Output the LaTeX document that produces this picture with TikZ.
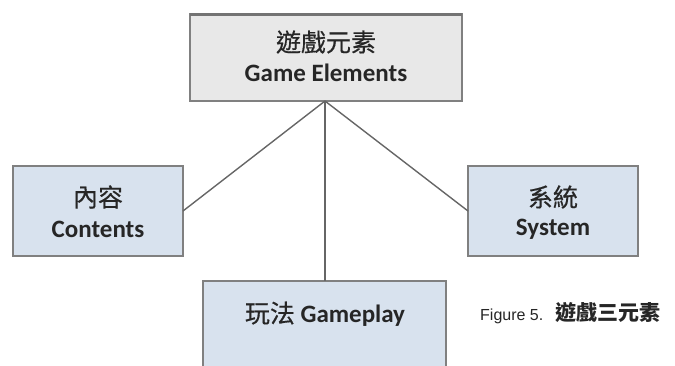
\documentclass[tikz,border=0pt]{standalone}
\usepackage{fontspec}
\setmainfont{Carlito}
\newfontfamily\cjk[FakeBold=0.5]{Noto Sans CJK TC}
\newfontfamily\cjkb{Noto Sans CJK TC}
\newfontfamily\capfont{Liberation Sans}
\begin{document}
\begin{tikzpicture}[x=1pt,y=-1pt,
  boxblue/.style={draw=black!50, line width=1.8pt, fill=bluefill},
  boxgray/.style={draw=black!50, line width=1.8pt, fill=grayfill},
  link/.style={draw=black!60, line width=1.4pt},
  lbl/.style={font=\fontsize{25}{29}\selectfont\bfseries, text=black!85, align=center, inner sep=0pt}]
\definecolor{bluefill}{HTML}{D8E2EE}
\definecolor{grayfill}{HTML}{E8E8E8}
\useasboundingbox (0,0) rectangle (675,365);
\clip (0,0) rectangle (675,365);
% boxes
\draw[boxgray] (190,14) rectangle (462,101);
\draw[black!55, line width=3pt] (190,14) -- (462,14);
\coordinate (hub) at (325,101);
\draw[boxblue] (13,166) rectangle (183,256);
\coordinate (leftin) at (183,211);
\draw[boxblue] (468,166) rectangle (638,256);
\coordinate (rightin) at (468,211);
\draw[boxblue] (203,281) rectangle (446,380);
\coordinate (botin) at (325,281);
% connectors
\draw[link] (hub) -- (leftin);
\draw[link] (hub) -- (rightin);
\draw[link] (hub) -- (botin);
% labels
\node[lbl] (t1) at (326,42) {\cjk\mdseries 遊戲元素};
\node[lbl] (t2) at (326,73) {Game Elements};
\node[lbl] (l1) at (98,197) {\cjk\mdseries 內容};
\node[lbl] (l2) at (98,229) {Contents};
\node[lbl] (r1) at (553,197) {\cjk\mdseries 系統};
\node[lbl] (r2) at (553,229) {System};
\node[lbl] (b1) at (325,314) {{\cjk\mdseries 玩法} Gameplay};
\node[inner sep=0pt, anchor=west, text=black!85] (cap) at (480,313) {\fontsize{16}{20}\selectfont\capfont Figure 5.\hspace{12pt}{\fontsize{21}{24}\selectfont\cjkb\bfseries 遊戲三元素}};
\end{tikzpicture}
\end{document}
